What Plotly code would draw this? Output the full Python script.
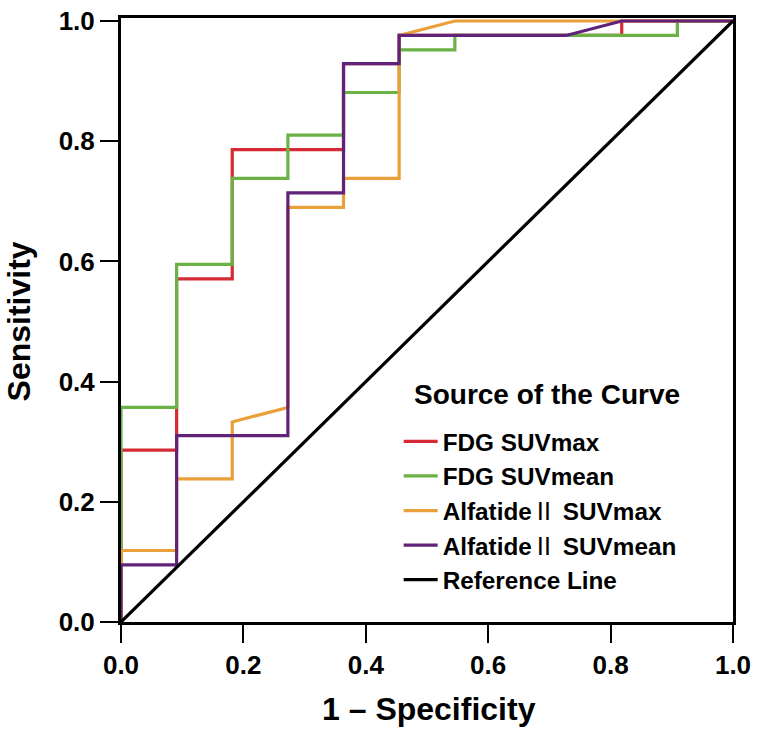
import plotly.graph_objects as go

# 1 - Specificity steps (multiples of 1/11) and sensitivity values
fdg_max_x = [0, 0, 0.0909, 0.0909, 0.1818, 0.1818, 0.3636, 0.3636, 0.4545, 0.4545, 0.8182, 0.8182, 1.0]
fdg_max_y = [0, 0.286, 0.286, 0.571, 0.571, 0.786, 0.786, 0.929, 0.929, 0.976, 0.976, 1.0, 1.0]

fdg_mean_x = [0, 0, 0.0909, 0.0909, 0.1818, 0.1818, 0.2727, 0.2727, 0.3636, 0.3636, 0.4545, 0.4545, 0.5455, 0.5455, 0.9091, 0.9091, 1.0]
fdg_mean_y = [0, 0.357, 0.357, 0.595, 0.595, 0.738, 0.738, 0.810, 0.810, 0.881, 0.881, 0.952, 0.952, 0.976, 0.976, 1.0, 1.0]

alf_max_x = [0, 0, 0.0909, 0.0909, 0.1818, 0.1818, 0.2727, 0.2727, 0.3636, 0.3636, 0.4545, 0.4545, 0.5455, 1.0]
alf_max_y = [0, 0.119, 0.119, 0.238, 0.238, 0.333, 0.357, 0.690, 0.690, 0.738, 0.738, 0.976, 1.0, 1.0]

alf_mean_x = [0, 0, 0.0909, 0.0909, 0.2727, 0.2727, 0.3636, 0.3636, 0.4545, 0.4545, 0.7273, 0.8182, 1.0]
alf_mean_y = [0, 0.095, 0.095, 0.310, 0.310, 0.714, 0.714, 0.929, 0.929, 0.976, 0.976, 1.0, 1.0]

ref_x = [0, 1]
ref_y = [0, 1]

roman2 = "<span style=\"font-family:'Noto Sans CJK SC';font-weight:normal\">\u2161</span>"
names = ["FDG SUVmax", "FDG SUVmean", "Alfatide" + roman2 + " SUVmax",
         "Alfatide" + roman2 + " SUVmean", "Reference Line"]
colors = ["#d62b35", "#6ab245", "#e9a03b", "#612379", "#000000"]
xs = [fdg_max_x, fdg_mean_x, alf_max_x, alf_mean_x, ref_x]
ys = [fdg_max_y, fdg_mean_y, alf_max_y, alf_mean_y, ref_y]

tick_vals = [0.0, 0.2, 0.4, 0.6, 0.8, 1.0]
tick_text = ["0.0", "0.2", "0.4", "0.6", "0.8", "1.0"]

FONT = "Liberation Sans, Arial, sans-serif"

fig = go.Figure()
for n, c, x, y in zip(names, colors, xs, ys):
    fig.add_trace(go.Scatter(x=x, y=y, mode="lines", name=n,
                             line=dict(color=c, width=3.2)))

axis_font = dict(family=FONT, size=26, color="black", weight="bold")

common_axis = dict(
    tickmode="array", tickvals=tick_vals, ticktext=tick_text,
    showgrid=False, zeroline=False,
    showline=True, linecolor="black", linewidth=3, mirror=True,
    ticks="outside", ticklen=18, tickwidth=2, tickcolor="black",
    tickfont=axis_font, ticklabeloverflow="allow",
)

fig.update_layout(
    width=757, height=735,
    margin=dict(l=121, r=21, t=6, b=113),
    paper_bgcolor="white", plot_bgcolor="white",
    showlegend=True,
    legend=dict(
        x=0.4537, y=0.336, xanchor="left", yanchor="top",
        bgcolor="rgba(0,0,0,0)",
        font=dict(family=FONT, size=24.3, color="black", weight="bold"),
        itemwidth=34,
        tracegroupgap=0,
    ),
    xaxis=dict(range=[0, 1.0], **common_axis),
    yaxis=dict(range=[0, 1.005], **common_axis),
    annotations=[
        dict(text="Source of the Curve", xref="paper", yref="paper",
             x=0.4748, y=0.3766, xanchor="left", yanchor="middle", showarrow=False,
             font=dict(family=FONT, size=28, color="black", weight="bold")),
        dict(text="1 \u2013 Specificity", xref="paper", yref="paper",
             x=0.5025, y=-0.1445, xanchor="center", yanchor="middle", showarrow=False,
             font=dict(family=FONT, size=32, color="black", weight="bold")),
        dict(text="Sensitivity", xref="paper", yref="paper", textangle=-90,
             x=-0.1675, y=0.4984, xanchor="center", yanchor="middle", showarrow=False,
             font=dict(family=FONT, size=32, color="black", weight="bold")),
    ],
)

fig.write_html("out.html", config={"displayModeBar": False},
               post_script="document.body.style.margin='0';document.body.style.overflow='hidden';")
